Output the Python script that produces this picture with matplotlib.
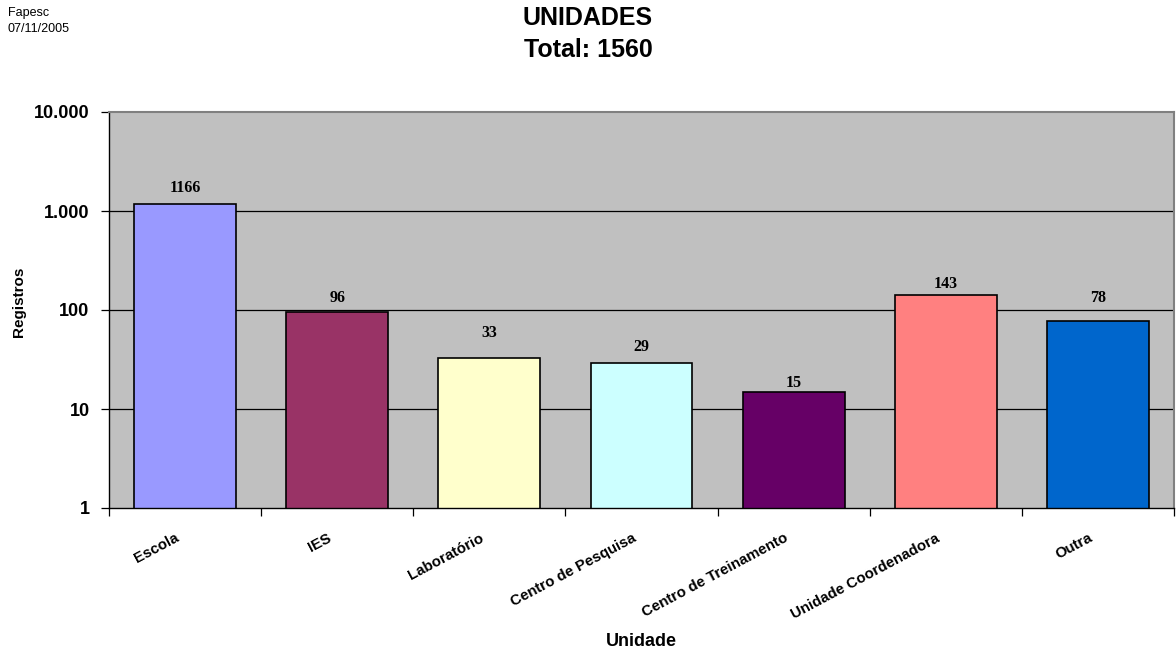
import matplotlib
matplotlib.use("Agg")
import matplotlib.pyplot as plt
import matplotlib.transforms as mtransforms
from matplotlib.ticker import FixedLocator, NullLocator

categories = ["Escola", "IES", "Laboratório", "Centro de Pesquisa",
              "Centro de Treinamento", "Unidade Coordenadora", "Outra"]
values = [1166, 96, 33, 29, 15, 143, 78]
colors = ["#9999FF", "#993366", "#FFFFCC", "#CCFFFF", "#660066", "#FF8080", "#0066CC"]
ytick_vals = [1, 10, 100, 1000, 10000]
ytick_labels = ["1", "10", "100", "1.000", "10.000"]
# vertical gap (points) between bar top and value-label centre, as in the reference
label_gaps = [11.5, 10, 18, 12, 6.5, 8, 16.5]

plt.rcParams['font.family'] = ['Liberation Sans', 'DejaVu Sans']

fig = plt.figure(figsize=(11.76, 6.51), dpi=100)
ax = fig.add_axes([109/1176, 1 - 508/651, (1174-109)/1176, (508-112)/651])
ax.set_facecolor("#C0C0C0")

x = list(range(len(categories)))
ax.set_yscale("log")
ax.set_ylim(1, 10000)
ax.set_xlim(-0.5, len(categories) - 0.5)

for yv in ytick_vals[1:-1]:
    ax.axhline(yv, color="black", lw=0.9, zorder=1)

bars = ax.bar(x, values, width=0.67, color=colors, edgecolor="black", linewidth=1.2, zorder=2)

for xi, v, g in zip(x, values, label_gaps):
    ax.annotate(str(v), (xi, v), xytext=(0, g), textcoords="offset points",
                ha="center", va="center", fontsize=11.5, fontweight="bold",
                family="Liberation Serif")

ax.yaxis.set_major_locator(FixedLocator(ytick_vals))
ax.yaxis.set_minor_locator(NullLocator())
ax.set_yticks(ytick_vals)
ax.set_yticklabels(ytick_labels, fontsize=13, fontweight="bold")
ax.tick_params(axis="y", direction="out", length=6, width=0.9, pad=8, colors="black")

ax.set_xticks([i - 0.5 for i in range(len(categories) + 1)])
ax.set_xticklabels([])
ax.tick_params(axis="x", which="major", direction="out", length=6, width=0.9)
ax.set_xticks(x, minor=True)
ax.set_xticklabels(categories, minor=True, rotation=28, ha="right", va="top",
                   rotation_mode="anchor", fontsize=10.8, fontweight="bold")
ax.tick_params(axis="x", which="minor", length=0, pad=16.5)
shift = mtransforms.ScaledTranslation(-10/100, 0, fig.dpi_scale_trans)
for lbl in ax.get_xticklabels(minor=True):
    lbl.set_transform(lbl.get_transform() + shift)

for s in ["left", "bottom"]:
    ax.spines[s].set_color("black")
    ax.spines[s].set_linewidth(1.0)
for s in ["top", "right"]:
    ax.spines[s].set_color("#808080")
    ax.spines[s].set_linewidth(1.5)

ax.set_ylabel("Registros", fontsize=11, fontweight="bold", va="center")
ax.yaxis.set_label_coords(-(109 - 19) / (1174 - 109), (508 - 302) / (508 - 112))
ax.set_xlabel("Unidade", fontsize=13, fontweight="bold", va="center")
ax.xaxis.set_label_coords(0.5, (508 - 642) / (508 - 112))

fig.text(588/1176, 1 - 18/651, "UNIDADES", ha="center", va="center",
         fontsize=18, fontweight="bold")
fig.text(588/1176, 1 - 50/651, "Total: 1560", ha="center", va="center",
         fontsize=18, fontweight="bold")
fig.text(8/1176, 1 - 13/651, "Fapesc", ha="left", va="center", fontsize=9)
fig.text(8/1176, 1 - 29/651, "07/11/2005", ha="left", va="center", fontsize=9)

fig.savefig("out.png", dpi=100, facecolor="white")
